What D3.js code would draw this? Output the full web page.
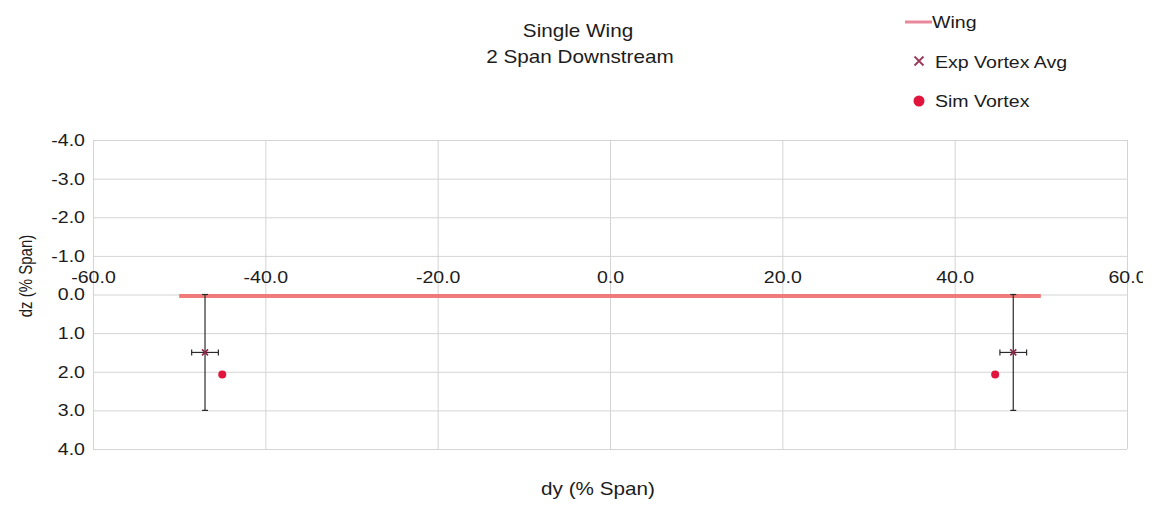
<!DOCTYPE html>
<html>
<head>
<meta charset="utf-8">
<script src="https://cdn.jsdelivr.net/npm/d3@7"></script>
<style>
  body { margin: 0; background: #fff; }
  svg { display: block; font-family: "Liberation Sans", Arial, sans-serif; }
</style>
</head>
<body>
<svg id="chart" width="1159" height="506"></svg>
<script>
// Wing span line (dy, dz)
const wingDy = [-50, 50];
const wingDz = [0, 0];

// Experimental vortex averages with error ranges
const expDy = [-47.0, 46.8];
const expDz = [1.5, 1.5];
const expErrDy = [1.55, 1.55];
const expErrDz = [1.5, 1.5];

// Simulated vortex centres
const simDy = [-45.0, 44.7];
const simDz = [2.07, 2.07];

// Axis ticks
const xTicks = [-60, -40, -20, 0, 20, 40, 60];
const yTicks = [-4, -3, -2, -1, 0, 1, 2, 3, 4];

const TEXT = "#1c1c1c";
const WIDE = "scale(1.15,1)";   // slightly widened lettering

const svg = d3.select("#chart");
const fmt = d3.formatLocale({decimal: ".", thousands: ",", grouping: [3], currency: ["", ""], minus: "-"}).format(".1f");

const x = d3.scaleLinear().domain([-60, 60]).range([93, 1127]);
const y = d3.scaleLinear().domain([-4, 4]).range([140, 449]);

// Chart frame clip: labels past the right edge get cut off
svg.append("defs").append("clipPath").attr("id", "frame")
  .append("rect").attr("x", 0).attr("y", 0).attr("width", 1143).attr("height", 506);

// Horizontal label helper
function label(parent, px, py, str, size, anchor) {
  return parent.append("g").attr("transform", `translate(${px},${py}) ${WIDE}`)
    .append("text").attr("text-anchor", anchor || "start")
    .attr("font-size", size).attr("fill", TEXT).text(str);
}

// Gridlines
const grid = svg.append("g").attr("stroke", "#d4d4d4").attr("stroke-width", 1);
grid.selectAll("line.h").data(yTicks).join("line")
  .attr("x1", x(-60)).attr("x2", x(60))
  .attr("y1", d => y(d) + 0.5).attr("y2", d => y(d) + 0.5);
grid.selectAll("line.v").data(xTicks).join("line")
  .attr("y1", y(-4)).attr("y2", y(4))
  .attr("x1", d => x(d) + 0.5).attr("x2", d => x(d) + 0.5);

// Y axis labels
const yAxis = d3.axisLeft(y).tickValues(yTicks).tickFormat(fmt).tickSize(0).tickPadding(7);
const gy = svg.append("g").attr("transform", `translate(${x(-60)},0)`).call(yAxis);
gy.select(".domain").remove();
gy.selectAll("text").attr("font-size", 17).attr("fill", TEXT)
  .attr("font-family", "Liberation Sans, Arial, sans-serif").attr("transform", WIDE);

// X axis labels, placed along dz = 0
const xAxis = d3.axisTop(x).tickValues(xTicks).tickFormat(fmt).tickSize(0).tickPadding(12);
const gx = svg.append("g").attr("clip-path", "url(#frame)")
  .append("g").attr("transform", `translate(0,${y(0)})`).call(xAxis);
gx.select(".domain").remove();
gx.selectAll("text").attr("font-size", 17).attr("fill", TEXT)
  .attr("font-family", "Liberation Sans, Arial, sans-serif").attr("transform", WIDE);

// Wing
svg.append("line")
  .attr("x1", x(wingDy[0])).attr("x2", x(wingDy[1]))
  .attr("y1", y(wingDz[0]) + 1.5).attr("y2", y(wingDz[1]) + 1.5)
  .attr("stroke", "#f06e6e").attr("stroke-width", 4).attr("stroke-opacity", 0.9);

// Error bars for experimental data
const err = svg.append("g").attr("stroke", "#2b2b2b").attr("stroke-width", 1.2);
expDy.forEach((d, i) => {
  const cx = x(d), cy = y(expDz[i]);
  const y0 = y(expDz[i] - expErrDz[i]), y1 = y(expDz[i] + expErrDz[i]);
  const x0 = x(d - expErrDy[i]), x1 = x(d + expErrDy[i]);
  err.append("line").attr("x1", cx).attr("x2", cx).attr("y1", y0).attr("y2", y1);
  err.append("line").attr("x1", cx - 3).attr("x2", cx + 3).attr("y1", y0).attr("y2", y0);
  err.append("line").attr("x1", cx - 3).attr("x2", cx + 3).attr("y1", y1).attr("y2", y1);
  err.append("line").attr("x1", x0).attr("x2", x1).attr("y1", cy).attr("y2", cy);
  err.append("line").attr("x1", x0).attr("x2", x0).attr("y1", cy - 3).attr("y2", cy + 3);
  err.append("line").attr("x1", x1).attr("x2", x1).attr("y1", cy - 3).attr("y2", cy + 3);
});

// Cross marker helper
function cross(g, cx, cy, r, color, w) {
  g.append("path")
    .attr("d", `M${cx - r},${cy - r}L${cx + r},${cy + r}M${cx - r},${cy + r}L${cx + r},${cy - r}`)
    .attr("stroke", color).attr("stroke-width", w).attr("fill", "none");
}

const marks = svg.append("g");
expDy.forEach((d, i) => cross(marks, x(d), y(expDz[i]), 3, "#8a2848", 1.6));

// Simulated vortex dots
marks.selectAll("circle").data(simDy).join("circle")
  .attr("cx", d => x(d)).attr("cy", (d, i) => y(simDz[i]))
  .attr("r", 4).attr("fill", "#e0143c");

// Titles
label(svg, 578, 37, "Single Wing", 18, "middle");
label(svg, 580, 63, "2 Span Downstream", 18, "middle");

label(svg, 598, 495, "dy (% Span)", 18, "middle");
svg.append("text").attr("transform", "translate(32,276) rotate(-90) scale(1,1.2)").attr("text-anchor", "middle")
  .attr("font-size", 15).attr("fill", TEXT).text("dz (% Span)");

// Legend
const lg = svg.append("g");
lg.append("line").attr("x1", 905).attr("x2", 932).attr("y1", 22).attr("y2", 22)
  .attr("stroke", "#e8889a").attr("stroke-width", 3);
label(lg, 932, 28, "Wing", 17);
cross(lg, 919, 61, 4.5, "#9b3a58", 1.8);
label(lg, 935, 68, "Exp Vortex Avg", 17);
lg.append("circle").attr("cx", 919).attr("cy", 101).attr("r", 5.5).attr("fill", "#e0143c");
label(lg, 935, 107, "Sim Vortex", 17);
</script>
</body>
</html>
